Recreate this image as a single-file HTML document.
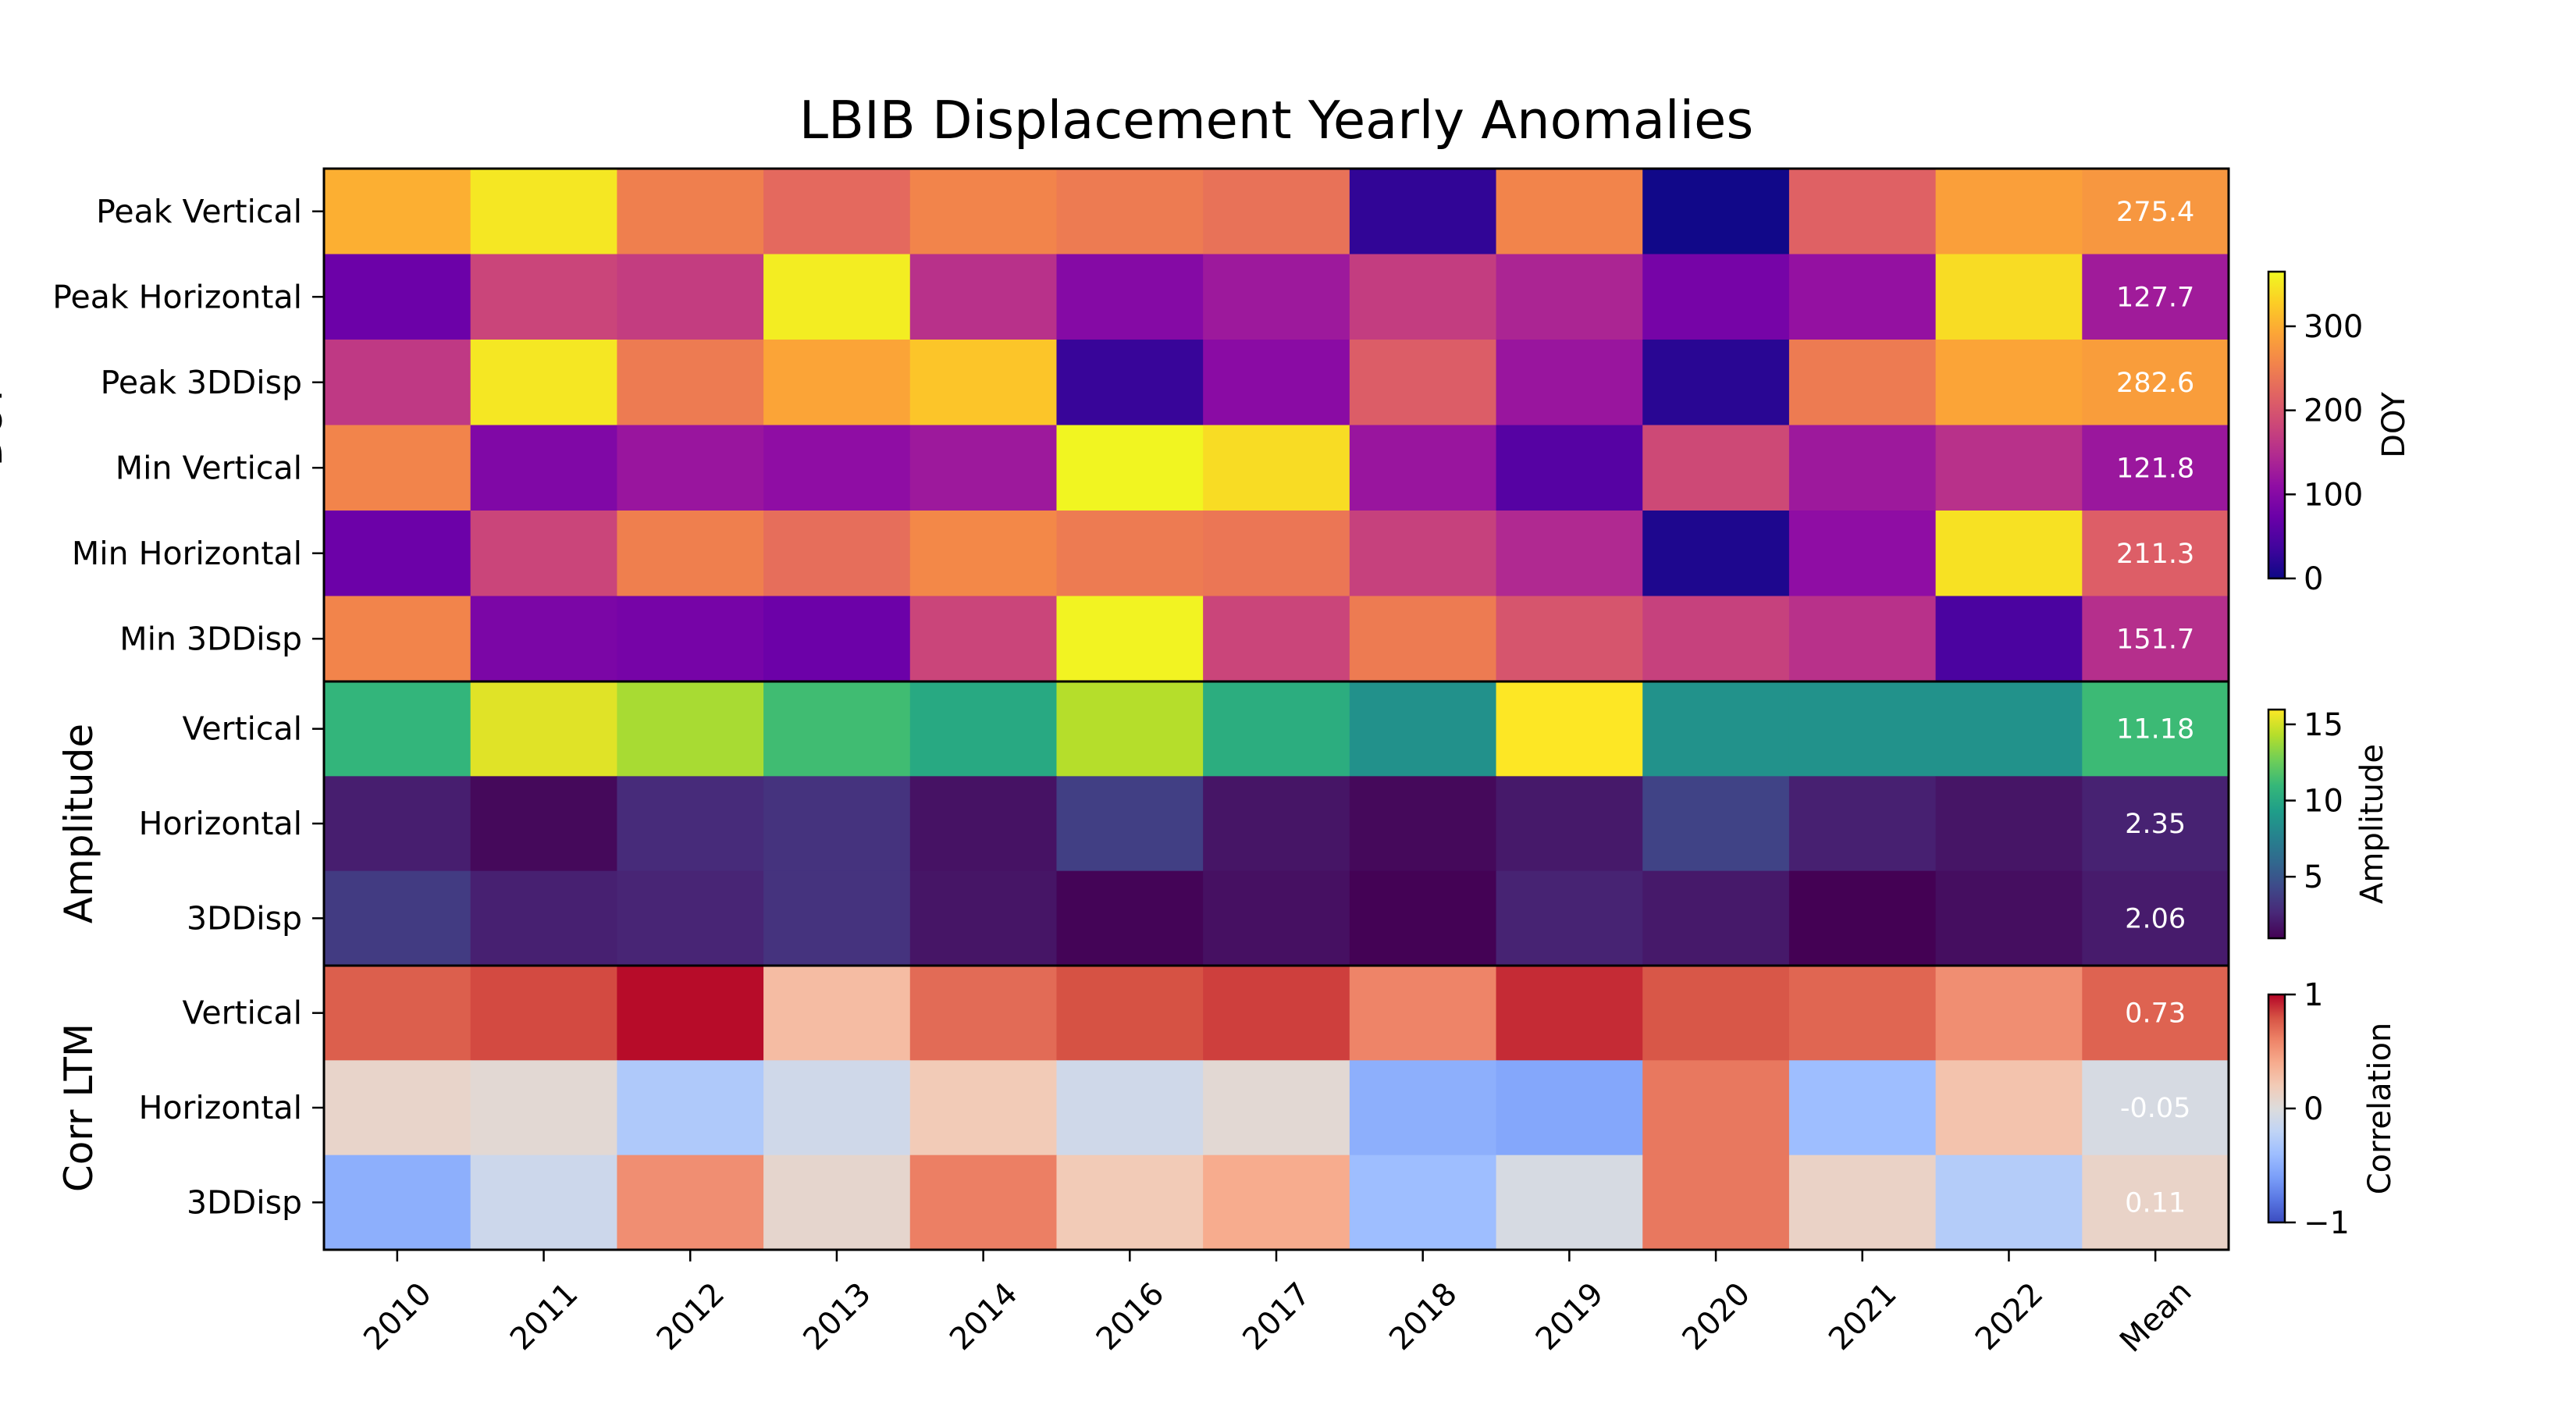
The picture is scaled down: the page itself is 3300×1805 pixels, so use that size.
<!DOCTYPE html>
<html><head><meta charset="utf-8"><style>
html,body{margin:0;padding:0;background:#fff;}
svg text{font-family:"DejaVu Sans","Liberation Sans",sans-serif;}
</style></head><body>
<svg id="chart" width="3300" height="1800" viewBox="0 0 3300 1800" xmlns="http://www.w3.org/2000/svg">
<rect width="3300" height="1800" fill="#fff"/>
<text x="1635" y="177" font-size="67" text-anchor="middle">LBIB Displacement Yearly Anomalies</text>
<g id="cells"></g>
<g id="axes"></g>
</svg>
<script>
const columns = ["2010","2011","2012","2013","2014","2016","2017","2018","2019","2020","2021","2022","Mean"];
const doyRows = ["Peak Vertical","Peak Horizontal","Peak 3DDisp","Min Vertical","Min Horizontal","Min 3DDisp"];
const doyValues = [
 [300,350,250,225,255,245,235,25,255,3,215,285,275.4],
 [75,180,170,355,155,100,125,170,140,85,115,340,127.7],
 [165,350,245,290,320,30,105,210,120,20,245,290,282.6],
 [255,95,120,110,125,362,340,120,55,185,125,155,121.8],
 [75,180,250,230,260,245,240,175,145,12,110,345,211.3],
 [255,90,85,75,180,360,180,245,200,175,155,45,151.7]
];
const ampRows = ["Vertical","Horizontal","3DDisp"];
const ampValues = [
 [10.8,15.3,14,11.3,10,14.3,10.3,8.5,16,8.6,8.6,8.6,11.18],
 [2.2,1.3,2.8,3.2,1.7,3.8,1.8,1.3,2.0,4.0,2.3,1.8,2.35],
 [3.6,2.3,2.5,3.2,1.8,1.1,1.6,1.0,2.4,2.0,0.96,1.5,2.06]
];
const corrRows = ["Vertical","Horizontal","3DDisp"];
const corrValues = [
 [0.75,0.82,0.98,0.3,0.7,0.8,0.85,0.6,0.9,0.78,0.72,0.55,0.73],
 [0.1,0.05,-0.3,-0.1,0.2,-0.1,0.05,-0.5,-0.55,0.65,-0.4,0.25,-0.05],
 [-0.5,-0.12,0.55,0.08,0.62,0.2,0.4,-0.4,-0.05,0.65,0.12,-0.27,0.11]
];
const meanLabels = [["275.4","127.7","282.6","121.8","211.3","151.7"],["11.18","2.35","2.06"],["0.73","-0.05","0.11"]];
const doyTicks = [0,100,200,300];
const ampTicks = [5,10,15];
const corrTicks = [-1,0,1];
const corrTickLabels = ["\u22121","0","1"];

const plasma=["#0d0887","#41049d","#6a00a8","#8f0da4","#b12a90","#cc4778","#e16462","#f2844b","#fca636","#fcce25","#f0f921"];
const viridis=["#440154","#482878","#3e4989","#31688e","#26828e","#1f9e89","#35b779","#6ece58","#b5de2b","#fde725"];
const coolwarm=["#3b4cc0","#5977e3","#7b9ff9","#9ebeff","#c0d4f5","#dddcdc","#f2cbb7","#f7ac8e","#ee8468","#d65244","#b40426"];
function hx(h){return [1,3,5].map(i=>parseInt(h.substr(i,2),16));}
function cmap(stops,t){t=Math.max(0,Math.min(1,t));const n=stops.length-1;const p=t*n;const i=Math.min(n-1,Math.floor(p));const f=p-i;const a=hx(stops[i]),b=hx(stops[i+1]);return "rgb("+a.map((v,k)=>Math.round(v+(b[k]-v)*f)).join(",")+")";}
const NS="http://www.w3.org/2000/svg";
const svg=document.getElementById("chart");
function mk(tag,attrs,parent){const e=document.createElementNS(NS,tag);for(const k in attrs)e.setAttribute(k,attrs[k]);(parent||svg).appendChild(e);return e;}

const X0=415,X1=2855,colW=(X1-X0)/columns.length;
const xPos=i=>X0+i*colW;
const groups=[
 {name:"doy",label:"DOY",rows:doyRows,vals:doyValues,y0:216,y1:873,stops:plasma,min:0,max:365,ticks:doyTicks,tl:doyTicks.map(String),cb:[348,741],cbl:"DOY",cblx:3080,labx:2},
 {name:"amplitude",label:"Amplitude",rows:ampRows,vals:ampValues,y0:873,y1:1237,stops:viridis,min:0.96,max:15.97,ticks:ampTicks,tl:ampTicks.map(String),cb:[909,1202],cbl:"Amplitude",cblx:3052,labx:118},
 {name:"corr",label:"Corr LTM",rows:corrRows,vals:corrValues,y0:1237,y1:1601,stops:coolwarm,min:-1,max:1,ticks:corrTicks,tl:corrTickLabels,cb:[1274,1566],cbl:"Correlation",cblx:3062,labx:118}
];
const cells=document.getElementById("cells");
groups.forEach((g,gi)=>{
 const rh=(g.y1-g.y0)/g.rows.length;
 const yPos=r=>g.y0+r*rh;
 const norm=v=>(v-g.min)/(g.max-g.min);
 g.vals.forEach((row,r)=>{
  row.forEach((v,c)=>{
   const rc=mk("rect",{x:xPos(c),y:yPos(r),width:colW+0.6,height:rh+0.6,fill:cmap(g.stops,norm(v))},cells);
   
   
  });
  const t=mk("text",{x:xPos(columns.length-1)+colW/2,y:yPos(r)+rh/2+12,"font-size":35,fill:"#fff","text-anchor":"middle"});
  t.textContent=meanLabels[gi][r];
  
  
  const tk=mk("line",{x1:X0-15,x2:X0,y1:yPos(r)+rh/2,y2:yPos(r)+rh/2,stroke:"#000","stroke-width":2.5});
  
  
  const lt=mk("text",{x:X0-28,y:yPos(r)+rh/2+14,"font-size":41,"text-anchor":"end"});
  lt.textContent=g.rows[r];
  
  
 });
 const fr=mk("rect",{x:X0,y:g.y0,width:X1-X0,height:g.y1-g.y0,fill:"none",stroke:"#000","stroke-width":3});
 
 
 const cy=(g.y0+g.y1)/2;
 const gl=mk("text",{x:g.labx,y:cy,"font-size":50,"text-anchor":"middle",transform:"rotate(-90 "+g.labx+" "+cy+")"});
 gl.textContent=g.label;
 
 
 const cbx=2906,cbw=21,[ct,cbb]=g.cb;
 const gid="grad"+gi;
 const defs=mk("defs",{});
 const lg=mk("linearGradient",{id:gid,x1:0,y1:1,x2:0,y2:0},defs);
 g.stops.forEach((s,i)=>mk("stop",{offset:i/(g.stops.length-1),"stop-color":s},lg));
 const cb=mk("rect",{x:cbx,y:ct,width:cbw,height:cbb-ct,fill:"url(#"+gid+")",stroke:"#000","stroke-width":2.5});
 
 
 const cyv=v=>cbb-(v-g.min)/(g.max-g.min)*(cbb-ct);
 g.ticks.forEach((v,i)=>{
  const y=cyv(v);
  const l=mk("line",{x1:cbx+cbw,x2:cbx+cbw+14,y1:y,y2:y,stroke:"#000","stroke-width":2.5});
  
  
  const t=mk("text",{x:cbx+cbw+24,y:y+14,"font-size":40});
  t.textContent=g.tl[i];
  
  
 });
 const ccy=(ct+cbb)/2;
 const cl=mk("text",{x:g.cblx,y:ccy,"font-size":40,"text-anchor":"middle",transform:"rotate(-90 "+g.cblx+" "+ccy+")"});
 cl.textContent=g.cbl;
 
 
});
columns.forEach((c,i)=>{
 const x=xPos(i)+colW/2;
 const tk=mk("line",{x1:x,x2:x,y1:1601,y2:1616,stroke:"#000","stroke-width":2.5});
 
 
 const t=mk("text",{x:x,y:1700,"font-size":40,"text-anchor":"middle",transform:"rotate(-45 "+x+" 1686)"});
 t.textContent=c;
 
 
});
</script>
</body></html>
